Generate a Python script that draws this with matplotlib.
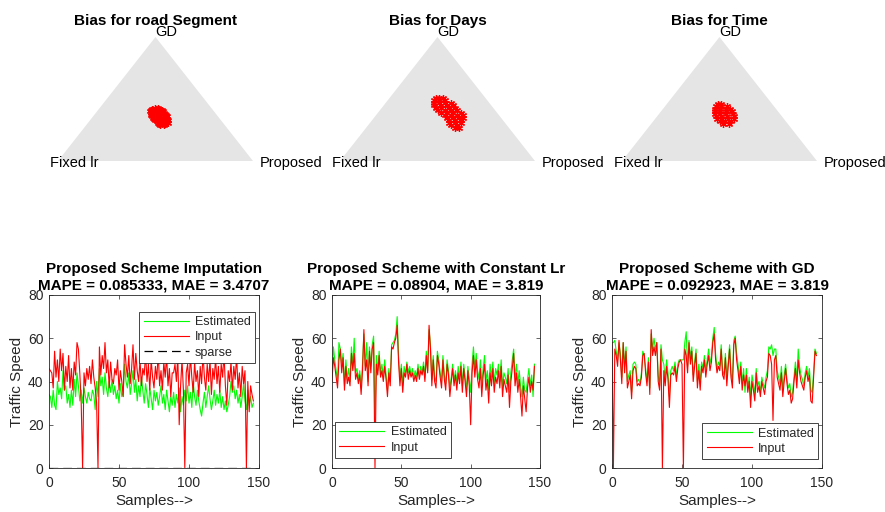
import numpy as np
import matplotlib
matplotlib.use('Agg')
import matplotlib.pyplot as plt
from matplotlib.patches import Polygon

plt.rcParams['font.family'] = ['Liberation Sans', 'DejaVu Sans']

# ---------------- data ----------------
tern_titles = ['Bias for road Segment', 'Bias for Days', 'Bias for Time']
vertex_labels = ['Fixed lr', 'Proposed', 'GD']

# barycentric weights (GD share, Proposed share) of the bias samples
seg_gd = [0.43, 0.43, 0.42, 0.42, 0.42, 0.41, 0.41, 0.41, 0.40, 0.40, 0.40,
          0.39, 0.39, 0.39, 0.38, 0.38, 0.38, 0.37, 0.37, 0.37, 0.36, 0.36, 0.36,
          0.35, 0.35, 0.35, 0.34, 0.34, 0.34, 0.33, 0.33, 0.33, 0.32, 0.32, 0.32,
          0.31, 0.31, 0.31, 0.30, 0.30, 0.29, 0.29]
seg_prop = [0.28, 0.30, 0.27, 0.29, 0.31, 0.27, 0.30, 0.33, 0.27, 0.31, 0.34,
            0.28, 0.32, 0.35, 0.29, 0.33, 0.36, 0.29, 0.33, 0.37, 0.30, 0.34, 0.38,
            0.31, 0.35, 0.38, 0.32, 0.36, 0.39, 0.33, 0.37, 0.40, 0.35, 0.38, 0.40,
            0.36, 0.39, 0.41, 0.37, 0.40, 0.38, 0.40]

day_gd = [0.51, 0.51, 0.51, 0.49, 0.49, 0.49, 0.47, 0.47, 0.47, 0.47,
          0.45, 0.45, 0.45, 0.45, 0.43, 0.43, 0.43, 0.43, 0.41, 0.41, 0.41, 0.41,
          0.39, 0.39, 0.39, 0.39, 0.37, 0.37, 0.37, 0.37, 0.35, 0.35, 0.35, 0.35,
          0.33, 0.33, 0.33, 0.31, 0.31, 0.31, 0.29, 0.29, 0.27, 0.27]
day_prop = [0.235, 0.255, 0.275, 0.235, 0.265, 0.295, 0.245, 0.275, 0.305, 0.335,
            0.255, 0.295, 0.325, 0.355, 0.275, 0.305, 0.345, 0.375, 0.295, 0.335, 0.365, 0.395,
            0.325, 0.355, 0.385, 0.425, 0.355, 0.385, 0.415, 0.445, 0.375, 0.405, 0.435, 0.455,
            0.395, 0.425, 0.455, 0.405, 0.435, 0.465, 0.425, 0.455, 0.455, 0.475]

time_gd = [0.46, 0.46, 0.44, 0.44, 0.44, 0.42, 0.42, 0.42, 0.42, 0.40, 0.40, 0.40, 0.40,
           0.38, 0.38, 0.38, 0.38, 0.36, 0.36, 0.36, 0.36, 0.34, 0.34, 0.34, 0.34,
           0.32, 0.32, 0.32, 0.30, 0.30]
time_prop = [0.26, 0.28, 0.26, 0.29, 0.32, 0.265, 0.295, 0.325, 0.345, 0.275, 0.305, 0.335, 0.365,
             0.285, 0.315, 0.345, 0.38, 0.30, 0.33, 0.36, 0.395, 0.315, 0.345, 0.375, 0.405,
             0.34, 0.37, 0.40, 0.37, 0.40]

line_titles = ['Proposed Scheme Imputation\nMAPE = 0.085333, MAE = 3.4707',
               'Proposed Scheme with Constant Lr\nMAPE = 0.08904, MAE = 3.819',
               'Proposed Scheme with GD\nMAPE = 0.092923, MAE = 3.819']
x_ticks = [0, 50, 100, 150]
y_ticks = [0, 20, 40, 60, 80]

input1 = [46, 45, 44, 37, 54, 42, 50, 40, 55, 45,
          53, 36, 47, 40, 52, 37, 46, 36, 49, 43,
          58, 55, 44, 30, 0, 44, 38, 46, 41, 47,
          39, 50, 42, 37, 30, 0, 56, 43, 52, 46,
          58, 44, 50, 37, 49, 41, 39, 46, 43, 50,
          36, 45, 40, 33, 57, 48, 42, 52, 39, 46,
          57, 41, 53, 45, 40, 50, 38, 46, 43, 53,
          40, 48, 36, 50, 42, 37, 47, 41, 54, 38,
          45, 36, 49, 42, 52, 38, 46, 33, 44, 44,
          48, 40, 52, 20, 38, 50, 36, 0, 44, 48,
          38, 52, 42, 35, 49, 40, 45, 33, 47, 39,
          53, 42, 36, 48, 40, 50, 34, 46, 41, 51,
          39, 47, 35, 48, 42, 53, 38, 29, 45, 40,
          49, 36, 47, 41, 52, 37, 44, 33, 47, 39,
          45, 0, 40, 26, 38, 34, 31]
est1 = [34, 33, 28, 36, 29, 27, 40, 34, 37, 32,
        45, 36, 38, 30, 34, 28, 36, 29, 41, 33,
        44, 38, 31, 36, 30, 37, 33, 30, 35, 32,
        31, 36, 34, 27, 40, 33, 46, 38, 42, 34,
        44, 37, 33, 40, 35, 41, 34, 38, 32, 36,
        30, 39, 33, 35, 48, 40, 37, 44, 34, 39,
        45, 35, 41, 31, 38, 33, 42, 36, 30, 39,
        34, 28, 37, 32, 27, 36, 31, 35, 29, 33,
        38, 30, 34, 27, 36, 31, 26, 33, 29, 35,
        28, 34, 30, 37, 26, 33, 29, 36, 31, 38,
        30, 35, 28, 40, 33, 29, 36, 31, 27, 24,
        30, 35, 28, 33, 38, 32, 27, 31, 36, 29,
        34, 30, 36, 28, 33, 27, 31, 26, 29, 33,
        40, 35, 38, 32, 36, 30, 34, 28, 33, 39,
        31, 27, 36, 29, 33, 28, 30]
sparse1 = [0] * 147

input2 = [40, 51, 47, 42, 37, 50, 55, 44, 51, 36,
          47, 39, 42, 38, 53, 45, 53, 41, 44, 39,
          43, 34, 45, 64, 45, 50, 38, 54, 44, 55,
          58, 0, 48, 43, 52, 42, 45, 40, 47, 41,
          33, 44, 38, 56, 55, 58, 60, 66, 49, 38,
          46, 35, 44, 42, 48, 41, 45, 42, 44, 40,
          43, 40, 46, 41, 45, 43, 47, 40, 52, 44,
          66, 55, 38, 50, 40, 37, 52, 48, 42, 37,
          50, 41, 36, 48, 43, 33, 40, 46, 38, 43,
          36, 44, 39, 47, 35, 46, 40, 33, 45, 38,
          20, 44, 52, 42, 50, 41, 37, 46, 33, 43,
          48, 36, 41, 30, 44, 38, 46, 35, 42, 39,
          45, 37, 47, 33, 41, 38, 35, 43, 28, 40,
          46, 53, 38, 44, 35, 41, 33, 24, 38, 32,
          26, 37, 42, 35, 40, 36, 47]
est2 = [42, 56, 50, 45, 40, 58, 55, 47, 53, 38,
        50, 41, 46, 40, 56, 47, 60, 44, 46, 41,
        45, 37, 48, 62, 47, 58, 40, 56, 47, 57,
        61, 22, 52, 45, 54, 44, 48, 42, 50, 43,
        36, 46, 40, 57, 58, 59, 62, 70, 52, 41,
        48, 38, 47, 43, 49, 44, 47, 43, 46, 42,
        45, 42, 48, 43, 47, 44, 49, 42, 54, 45,
        64, 57, 41, 52, 42, 40, 54, 50, 44, 40,
        52, 43, 39, 50, 45, 37, 42, 48, 40, 45,
        39, 47, 42, 49, 38, 48, 42, 36, 47, 41,
        35, 48, 56, 46, 53, 45, 41, 50, 38, 46,
        52, 40, 45, 36, 48, 42, 49, 39, 46, 43,
        48, 40, 50, 37, 44, 42, 39, 46, 35, 44,
        50, 55, 42, 48, 39, 45, 38, 33, 42, 36,
        35, 41, 46, 38, 43, 33, 48]

input3 = [58, 0, 55, 52, 47, 59, 50, 39, 58, 44,
          54, 37, 40, 43, 32, 45, 47, 46, 38, 39,
          38, 42, 52, 53, 44, 38, 49, 34, 64, 52,
          56, 52, 58, 40, 36, 55, 0, 45, 38, 47,
          41, 28, 43, 44, 43, 47, 40, 46, 49, 50,
          48, 0, 55, 52, 44, 58, 48, 54, 40, 47,
          53, 37, 45, 36, 47, 44, 50, 42, 48, 52,
          45, 49, 58, 62, 50, 44, 47, 45, 55, 43,
          41, 51, 38, 47, 55, 42, 37, 57, 60, 50,
          45, 39, 47, 36, 43, 38, 43, 35, 40, 28,
          40, 36, 31, 44, 35, 38, 33, 40, 37, 34,
          40, 42, 53, 52, 48, 22, 50, 52, 42, 39,
          36, 44, 33, 40, 46, 39, 34, 36, 30, 32,
          40, 46, 37, 50, 44, 40, 38, 36, 42, 45,
          40, 43, 31, 30, 42, 54, 52]
est3 = [58, 58, 59, 54, 50, 58, 53, 42, 58, 47,
        56, 40, 43, 45, 35, 48, 49, 48, 40, 41,
        39, 44, 54, 52, 46, 40, 51, 37, 62, 55,
        60, 55, 58, 43, 38, 57, 50, 48, 41, 50,
        44, 33, 45, 47, 45, 49, 42, 48, 50, 50,
        50, 50, 58, 63, 47, 59, 51, 56, 43, 49,
        55, 40, 48, 39, 49, 46, 52, 45, 50, 55,
        48, 52, 60, 65, 53, 46, 49, 47, 57, 45,
        43, 53, 41, 49, 57, 44, 40, 59, 61, 53,
        48, 42, 49, 39, 46, 35, 46, 37, 42, 33,
        43, 39, 34, 46, 38, 40, 35, 42, 39, 37,
        42, 45, 56, 55, 57, 52, 55, 55, 45, 42,
        39, 47, 36, 43, 48, 41, 37, 39, 33, 35,
        42, 49, 40, 55, 47, 43, 41, 38, 44, 47,
        42, 46, 36, 35, 44, 55, 53]

# ---------------- figure ----------------
W, H = 885, 512
fig = plt.figure(figsize=(W / 100, H / 100), dpi=100)
DARK = '#262626'


def px_axes(l, t, r, b):
    return fig.add_axes([l / W, 1 - b / H, (r - l) / W, (b - t) / H])


S3 = np.sqrt(3) / 2
tern_sets = [(seg_gd, seg_prop), (day_gd, day_prop), (time_gd, time_prop)]
tern_left = [58, 340, 622]
for k in range(3):
    ax = px_axes(tern_left[k], 37, tern_left[k] + 195, 161)
    ax.set_xlim(0, 1)
    ax.set_ylim(0, S3)
    ax.axis('off')
    ax.add_patch(Polygon([[0, 0], [1, 0], [0.5, S3]], closed=True,
                         facecolor='#e5e5e5', edgecolor='none'))
    g = np.array(tern_sets[k][0])
    p = np.array(tern_sets[k][1])
    xs = p + 0.5 * g
    ys = g * S3
    ax.plot(xs, ys, linestyle='none', marker=(6, 2, 0), markersize=5,
            markeredgewidth=0.9, color='#ff0000', clip_on=False)
    ax.text(0.5, 0.95, tern_titles[k], ha='center', va='baseline',
            fontsize=11, fontweight='bold', color='black')
    ax.text(0.5, S3 + 0.005, vertex_labels[2], ha='left', va='baseline',
            fontsize=10.5, color='black')
    ax.text(-0.041, -0.042, vertex_labels[0], ha='left', va='baseline',
            fontsize=10.5, color='black')
    ax.text(1.036, -0.042, vertex_labels[1], ha='left', va='baseline',
            fontsize=10.5, color='black')

line_left = [49, 332, 612]
line_right = [259, 540, 822]
series = [(est1, input1), (est2, input2), (est3, input3)]
leg_cfg = [('upper right', (0.981, 0.902)),
           ('lower left', (0.014, 0.058)),
           ('lower right', (0.981, 0.052))]

for k in range(3):
    ax = px_axes(line_left[k], 295, line_right[k], 468)
    est, inp = series[k]
    x = np.arange(len(est))
    ax.plot(x, est, color='#00ff00', lw=0.8, label='Estimated')
    ax.plot(x, inp, color='#ff0000', lw=0.8, label='Input')
    if k == 0:
        ax.plot(np.arange(len(sparse1)), sparse1, color='black', lw=0.9,
                linestyle=(0, (7, 4)), label='sparse')
    ax.set_xlim(0, 150)
    ax.set_ylim(0, 80)
    ax.set_xticks(x_ticks)
    ax.set_yticks(y_ticks)
    ax.tick_params(direction='in', length=3, width=0.5, top=True, right=True,
                   labelsize=10, colors=DARK)
    ax.tick_params(axis='x', pad=6)
    ax.tick_params(axis='y', pad=4)
    for s in ax.spines.values():
        s.set_color(DARK)
        s.set_linewidth(0.6)
    ax.set_title(line_titles[k], fontsize=11, fontweight='bold', pad=4,
                 color='black', linespacing=1.2)
    ax.set_xlabel('Samples-->', fontsize=11, color=DARK, labelpad=3)
    ax.set_ylabel('Traffic Speed', fontsize=11, color=DARK, labelpad=3)
    loc, anchor = leg_cfg[k]
    leg = ax.legend(loc=loc, bbox_to_anchor=anchor, borderaxespad=0,
                    fontsize=9, fancybox=False, framealpha=1,
                    edgecolor=DARK, handlelength=3.6, labelspacing=0.25,
                    borderpad=0.35, handletextpad=0.5)
    leg.get_frame().set_linewidth(0.6)
    for t in leg.get_texts():
        t.set_color(DARK)

fig.savefig('out.png', dpi=100)
